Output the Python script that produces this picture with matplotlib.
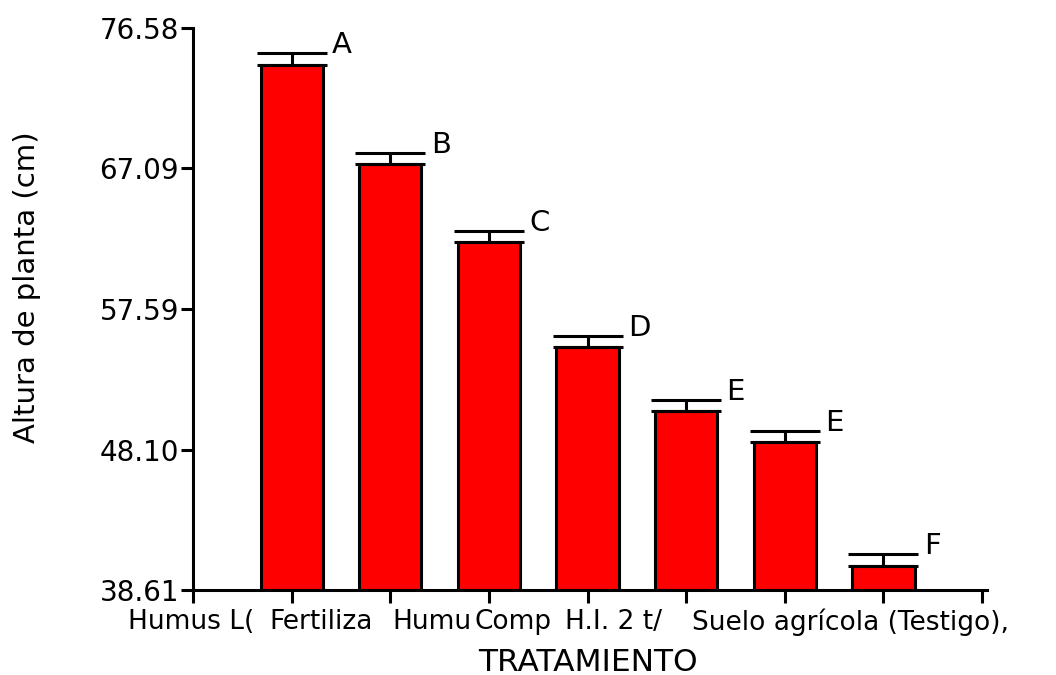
import matplotlib.pyplot as plt

# Data
groups = [1, 2, 3, 4, 5, 6, 7]
heights = [74.08, 67.38, 62.12, 55.03, 50.70, 48.61, 40.25]
errors = [0.80, 0.76, 0.76, 0.76, 0.76, 0.76, 0.80]
letters = ['A', 'B', 'C', 'D', 'E', 'E', 'F']

# x tick labels as they appear (overlapping, clipped in the original)
tick_texts = ['Humus L(', 'Fertiliza', 'Humu', 'Comp', 'H.I. 2 t/', 'Suelo agrícola (Testigo),']
tick_left_px = [128, 269, 392, 475, 565, 692]

y_ticks = [38.61, 48.10, 57.59, 67.09, 76.58]

plt.rcParams['font.family'] = ['DejaVu Sans']

fig = plt.figure(figsize=(10.56, 6.75), dpi=100)
ax = fig.add_axes([193 / 1056, 1 - 590 / 675, (987 - 193) / 1056, (590 - 28) / 675])

ax.bar(groups, [h - y_ticks[0] for h in heights], bottom=y_ticks[0], width=0.63,
       color='#ff0000', edgecolor='black', linewidth=2.2, zorder=2)
ax.errorbar(groups, heights, yerr=[[0] * len(errors), errors], fmt='none',
            ecolor='black', elinewidth=2.2, capsize=25, capthick=2.2, zorder=3)

for g, h, e, lab in zip(groups, heights, errors, letters):
    ax.text(g + 0.41, h + e, lab, fontsize=21, ha='left', va='baseline')

ax.set_xlim(0, 8.05)
ax.set_ylim(y_ticks[0], y_ticks[-1])
ax.set_xticks(range(0, 9))
ax.set_xticklabels([])
ax.set_yticks(y_ticks)
ax.set_yticklabels(['%.2f' % v for v in y_ticks], fontsize=20)

for side in ['top', 'right']:
    ax.spines[side].set_visible(False)
for side in ['left', 'bottom']:
    ax.spines[side].set_linewidth(2.2)
ax.tick_params(axis='both', width=2.2, length=9, pad=1)

for txt, px in zip(tick_texts, tick_left_px):
    fig.text(px / 1056, 1 - 622 / 675, txt, fontsize=19, ha='left', va='center')

fig.text(588 / 1056, 1 - 671 / 675, 'TRATAMIENTO', fontsize=22.5, ha='center', va='baseline')
fig.text(27 / 1056, 1 - 287 / 675, 'Altura de planta (cm)', fontsize=21, rotation=90,
         ha='center', va='center')

fig.savefig('out.png', dpi=100)
